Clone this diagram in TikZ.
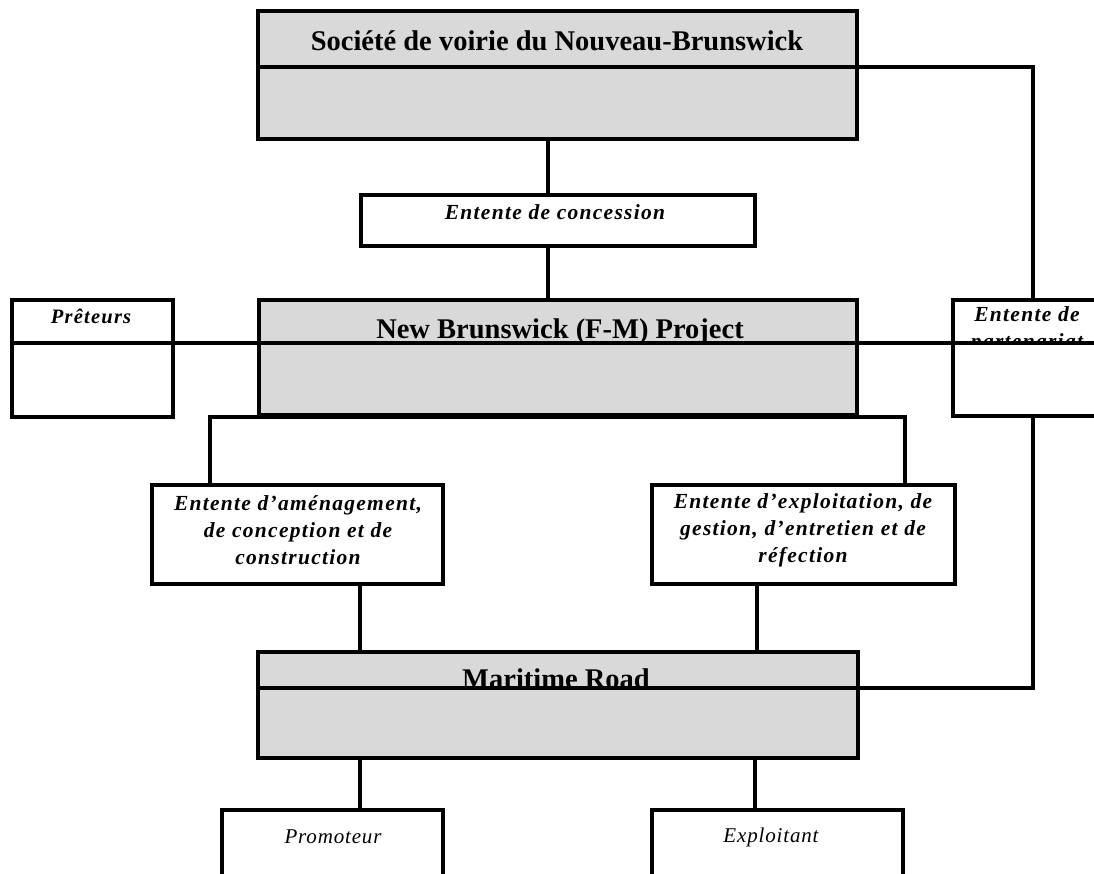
\documentclass[tikz,border=0pt]{standalone}
\usepackage{fontspec}
\setmainfont{Liberation Serif}
\newfontfamily\entfont[LetterSpace=6]{Liberation Serif}
\newfontfamily\plainfont[LetterSpace=4]{Liberation Serif}
\definecolor{boxgray}{RGB}{217,217,217}
\begin{document}
\begin{tikzpicture}[x=1pt,y=-1pt,
  box/.style={draw, line width=3.5pt, inner sep=0pt, outer sep=0pt, anchor=north west},
  graybox/.style={box, fill=boxgray},
  whitebox/.style={box, fill=white},
  conn/.style={line width=3.5pt},
  titletext/.style={font=\fontsize{28.5}{32}\selectfont\bfseries, inner sep=0pt},
  enttext/.style={font=\entfont\fontsize{21.5}{27}\selectfont\bfseries\itshape, align=center, inner sep=0pt},
  plaintext/.style={font=\plainfont\fontsize{21}{24}\selectfont\itshape, inner sep=0pt}]
\useasboundingbox (0,0) rectangle (1094,874);
% boxes
\node[graybox, minimum width=599pt, minimum height=128pt] (sv) at (258,11) {};
\node[whitebox, minimum width=394pt, minimum height=51pt] (conc) at (361,195) {};
\node[graybox, minimum width=598pt, minimum height=115pt] (nb) at (259,300) {};
\node[whitebox, minimum width=161pt, minimum height=117pt] (pret) at (12,300) {};
\node[whitebox, minimum width=160pt, minimum height=116pt] (part) at (953,300) {};
\node[whitebox, minimum width=291pt, minimum height=99pt] (amen) at (152,485) {};
\node[whitebox, minimum width=303pt, minimum height=99pt] (expl) at (652,485) {};
\node[graybox, minimum width=600pt, minimum height=106pt] (mr) at (258,652) {};
\node[whitebox, minimum width=221pt, minimum height=90pt] (prom) at (222,810) {};
\node[whitebox, minimum width=251pt, minimum height=90pt] (expt) at (652,810) {};
% texts
\node[titletext] (svt) at (557,41) {Société de voirie du Nouveau-Brunswick};
\node[enttext] (conct) at (555,212) {Entente de concession};
\node[titletext] (nbt) at (560,332) {New Brunswick (F-M) Project};
\node[enttext, font=\entfont\fontsize{20.5}{24}\selectfont\bfseries\itshape] (prett) at (91,316) {Prêteurs};
\begin{scope}
\clip (953,300) rectangle (1094,343);
\node[enttext] (partt) at (1027,330) {Entente de\\partenariat};
\end{scope}
\node[enttext] (amet) at (298,530) {Entente d’aménagement,\\de conception et de\\construction};
\node[enttext] (exlt) at (803,530) {Entente d’exploitation, de\\gestion, d’entretien et de\\réfection};
\node[titletext, anchor=base] (mrt) at (556,688.5) {Maritime Road};
\node[plaintext] (promt) at (333,837) {Promoteur};
\node[plaintext] (expltt) at (771,837) {Exploitant};
% connectors
\draw[conn] ([xshift=290pt]sv.south west) coordinate (c1) -- (c1 |- conc.north);
\draw[conn] ([xshift=187pt]conc.south west) coordinate (c2) -- (c2 |- nb.north);
\draw[conn] ([yshift=-56pt]sv.north west) -| (part.north);
\draw[conn] ([yshift=-43pt]pret.north west) -- ([yshift=-43pt]part.north east);
\draw[conn] ([xshift=58pt]amen.north west) |- ([yshift=-2pt]nb.south) -| ([xshift=253pt]expl.north west);
\draw[conn] ([xshift=208pt]amen.south west) coordinate (c3) -- (c3 |- mr.north);
\draw[conn] ([xshift=105pt]expl.south west) coordinate (c4) -- (c4 |- mr.north);
\draw[conn] ([xshift=102pt]mr.south west) coordinate (c5) -- (c5 |- prom.north);
\draw[conn] ([xshift=497pt]mr.south west) coordinate (c6) -- (c6 |- expt.north);
\draw[conn] ([yshift=-36pt]mr.north west) -| (part.south);
\end{tikzpicture}
\end{document}
